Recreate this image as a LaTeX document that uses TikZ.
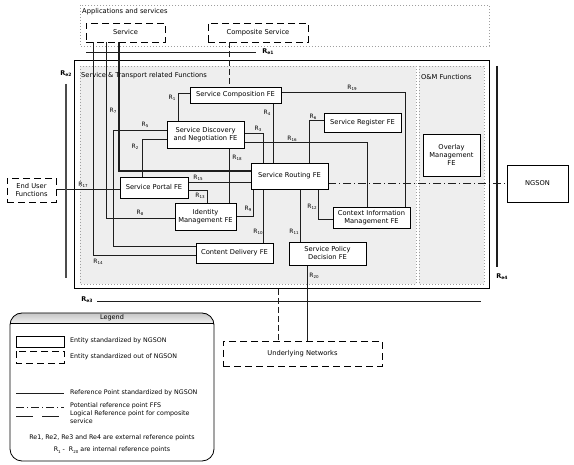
\documentclass[tikz,border=0pt]{standalone}
\usepackage{fontspec}
\setmainfont{DejaVu Sans}
\definecolor{regfill}{RGB}{238,238,238}
\definecolor{lnc}{RGB}{30,30,30}
\pgfdeclarelayer{back}
\pgfdeclarelayer{wires}
\pgfsetlayers{back,wires,main}
\newcommand{\rlab}[1]{R\raisebox{-0.45ex}{\fontsize{4}{4}\selectfont #1}}
\newcommand{\relab}[1]{R\raisebox{-0.35ex}{\fontsize{4.5}{5}\selectfont\bfseries #1}}
\begin{document}
\begin{tikzpicture}[x=1pt,y=-1pt,
  every node/.style={font=\fontsize{6.7}{8}\selectfont, inner sep=0pt, align=center},
  fe/.style={draw=black, line width=0.8pt, fill=white},
  ext/.style={draw=black, line width=0.9pt, fill=white, dash pattern=on 7pt off 4pt},
  conn/.style={draw=lnc, line width=0.75pt},
  logic/.style={draw=lnc, line width=0.75pt, dash pattern=on 6pt off 3pt},
  ffs/.style={draw=lnc, line width=0.8pt, dash pattern=on 8pt off 3pt on 1pt off 3pt},
  lbl/.style={font=\fontsize{6}{6}\selectfont},
  relbl/.style={font=\fontsize{6.5}{7}\selectfont\bfseries},
  reline/.style={draw=lnc, line width=0.8pt},
  region/.style={draw=gray!75, dash pattern=on 0.8pt off 2.2pt, line width=0.6pt},
  legtxt/.style={font=\fontsize{6.3}{7.5}\selectfont, anchor=west, align=left},
]
\useasboundingbox (0,0) rectangle (574,465);

% ---------- regions ----------
\begin{pgfonlayer}{back}
\draw[region, fill=white] (80,5) rectangle (489,46);
\draw[line width=0.95pt, fill=white] (74,60) rectangle (489,288);
\draw[region, fill=regfill] (80,66) rectangle (416,284);
\draw[region, fill=regfill] (419,66) rectangle (484,284);
\end{pgfonlayer}
\node[anchor=west] (apptxt) at (82,12) {Applications and services};
\node[anchor=west] (sttxt) at (81,76) {Service \& Transport related Functions};
\node[anchor=west] (omtxt) at (421,77) {O\&M Functions};

% ---------- external reference lines ----------
\coordinate (re1a) at (86,52); \coordinate (re1b) at (256,52);
\draw[reline] (re1a) -- (re1b);
\node[relbl] (re1) at (268,52) {\relab{e1}};
\coordinate (re2a) at (66,84); \coordinate (re2b) at (66,278);
\draw[draw=gray!60!black, line width=1.4pt] (re2a) -- (re2b);
\node[relbl] (re2) at (66,74) {\relab{e2}};
\coordinate (re3a) at (97,301); \coordinate (re3b) at (481,301);
\draw[reline] (re3a) -- (re3b);
\node[relbl] (re3) at (87,300) {\relab{e3}};
\coordinate (re4a) at (497,66); \coordinate (re4b) at (497,267);
\draw[draw=lnc, line width=1.1pt] (re4a) -- (re4b);
\node[relbl] (re4) at (502,277) {\relab{e4}};

% ---------- nodes ----------
\node[fe, minimum width=91pt, minimum height=16pt] (sc) at (235.5,95) {Service Composition FE};
\node[fe, minimum width=77pt, minimum height=27pt] (sdn) at (205.5,134.5) {Service Discovery\\and Negotiation FE};
\node[fe, minimum width=77pt, minimum height=19pt] (sreg) at (362.5,122.5) {Service Register FE};
\node[fe, minimum width=77pt, minimum height=26pt] (srout) at (289.5,176) {Service Routing FE};
\node[fe, minimum width=68pt, minimum height=21pt] (sportal) at (154,187.5) {Service Portal FE};
\node[fe, minimum width=61pt, minimum height=27pt] (idm) at (205.5,216.5) {Identity\\Management FE};
\node[fe, minimum width=77pt, minimum height=20pt] (cdel) at (234.5,253) {Content Delivery FE};
\node[fe, minimum width=77pt, minimum height=23pt] (spd) at (327.5,253.5) {Service Policy\\Decision FE};
\node[fe, minimum width=77pt, minimum height=21pt] (cim) at (371.5,217.5) {Context Information\\Management FE};
\node[fe, minimum width=57pt, minimum height=42pt] (omf) at (451.5,155) {Overlay\\Management\\FE};
\node[fe, minimum width=61pt, minimum height=37pt] (ngson) at (537.5,183.5) {NGSON};
\node[ext, minimum width=49pt, minimum height=24pt] (euf) at (31.5,190) {End User\\Functions};
\node[ext, minimum width=159pt, minimum height=25pt] (un) at (302.5,353.5) {Underlying Networks};
\node[ext, minimum width=79pt, minimum height=19pt] (svc) at (125.5,32.5) {Service};
\node[ext, minimum width=100pt, minimum height=19pt] (csvc) at (258,32.5) {Composite Service};

% ---------- connectors ----------
\begin{pgfonlayer}{wires}
\draw[conn] (sc.west |- 0,93) -| (sdn.north -| 178,0);                 % R1
\draw[conn] (sdn.west |- 0,139) -| (sportal.north -| 142,0);           % R2
\draw[conn] (sdn.east |- 0,133) -| (srout.north -| 263,0);             % R3
\draw[conn] (sc.south -| 273,0) -- (srout.north -| 273,0);             % R4
\draw[conn] (sdn.west |- 0,130) -- (113,130) -- (113,246) -- (cdel.west |- 0,246); % R5
\draw[conn] (sreg.west |- 0,120) -| (srout.north -| 309,0);            % R6
\draw[conn] (svc.south -| 93,0) -- (93,255) -- (cdel.west |- 0,255);   % R14
\draw[conn] (svc.south -| 106,0) -- (106,218) -- (idm.west |- 0,218);  % R7/R8
\draw[conn, line width=1.1pt] (svc.south -| 119,0) -- (119,171) -- (srout.west |- 0,171);
\draw[conn] (idm.east |- 0,216) -- (253,216) -- (srout.south -| 253,0); % R9
\draw[conn] (srout.south -| 263,0) -- (cdel.north -| 263,0);           % R10
\draw[conn] (srout.south -| 300,0) -- (spd.north -| 300,0);            % R11
\draw[conn] (srout.south -| 318,0) |- (cim.west |- 0,219);             % R12
\draw[conn] (sportal.east |- 0,190) -| (idm.north -| 207,0);           % R13
\draw[conn] (sportal.east |- 0,182) -- (srout.west |- 0,182);          % R15
\draw[conn] (sdn.east |- 0,142) -| (cim.north -| 367,0);               % R16
\draw[conn] (euf.east |- 0,189) -- (sportal.west |- 0,189);            % R17
\draw[conn] (sdn.south -| 229,0) -- (idm.north -| 229,0);              % R18
\draw[conn] (sc.east |- 0,92) -| (cim.north -| 405,0);                 % R19
\draw[conn] (spd.south -| 307,0) -- (un.north -| 307,0);               % R20
\draw[logic] (csvc.south -| 229,0) -- (sc.north -| 229,0);
\coordinate (ub) at (278,289);
\draw[logic] (ub) -- (un.north -| 278,0);
\draw[ffs] (srout.east |- 0,183) -- (ngson.west |- 0,183);
\end{pgfonlayer}

% ---------- internal reference labels ----------
\node[lbl] (l1) at (172,98) {\rlab{1}};
\node[lbl] (l2) at (135,147) {\rlab{2}};
\node[lbl] (l3) at (258,129) {\rlab{3}};
\node[lbl] (l4) at (267,113) {\rlab{4}};
\node[lbl] (l5) at (145,125) {\rlab{5}};
\node[lbl] (l6) at (313,117) {\rlab{6}};
\node[lbl] (l7) at (113,111) {\rlab{7}};
\node[lbl] (l8) at (140,213) {\rlab{8}};
\node[lbl] (l9) at (248,209) {\rlab{9}};
\node[lbl] (l10) at (258,232) {\rlab{10}};
\node[lbl] (l11) at (294,232) {\rlab{11}};
\node[lbl] (l12) at (312,207) {\rlab{12}};
\node[lbl] (l13) at (200,196) {\rlab{13}};
\node[lbl] (l14) at (98,262) {\rlab{14}};
\node[lbl] (l15) at (198,178) {\rlab{15}};
\node[lbl] (l16) at (292,139) {\rlab{16}};
\node[lbl] (l17) at (83,185) {\rlab{17}};
\node[lbl] (l18) at (237,158) {\rlab{18}};
\node[lbl] (l19) at (352,88) {\rlab{19}};
\node[lbl] (l20) at (314,276) {\rlab{20}};

% ---------- legend ----------
\begin{scope}
  \clip[rounded corners=12pt] (10,313) rectangle (214,461);
  \fill[top color=gray!45, bottom color=gray!12] (10,313) rectangle (214,323);
\end{scope}
\draw[line width=0.8pt] (10,323) -- (214,323);
\draw[line width=0.8pt, rounded corners=12pt] (10,313) rectangle (214,461);
\node[font=\fontsize{6.5}{7}\selectfont] (legtitle) at (112,318) {Legend};
\draw[line width=0.8pt] (16,336) rectangle (64,347);
\node[legtxt] (lg1) at (70,341) {Entity standardized by NGSON};
\draw[line width=0.9pt, dash pattern=on 7pt off 4pt] (16,351) rectangle (64,363);
\node[legtxt] (lg2) at (70,357) {Entity standardized out of NGSON};
\draw[conn] (16,393) -- (64,393);
\node[legtxt] (lg3) at (70,393) {Reference Point standardized by NGSON};
\draw[ffs] (16,407) -- (64,407);
\node[legtxt] (lg4) at (70,406) {Potential reference point FFS};
\draw[conn, dash pattern=on 17pt off 9pt] (16,416) -- (64,416);
\node[legtxt, anchor=north west] (lg5) at (70,411) {Logical Reference point for composite\\service};
\node[font=\fontsize{6.3}{7}\selectfont] (lg6) at (112,438) {Re1, Re2, Re3 and Re4 are external reference points};
\node[font=\fontsize{6.3}{7}\selectfont] (lg7) at (112,450) {\rlab{1} -\ \ \rlab{20} are internal reference points};
\end{tikzpicture}
\end{document}
